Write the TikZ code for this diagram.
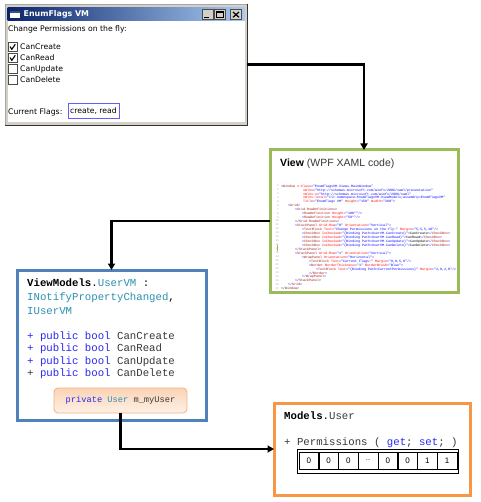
\documentclass[tikz,border=0pt]{standalone}
\usepackage{fontspec}
\usetikzlibrary{arrows.meta}
\newfontfamily\winfont{DejaVu Sans}
\newfontfamily\codefont{Liberation Mono}
\newfontfamily\headfont{Liberation Sans}
\definecolor{vsblue}{HTML}{2828F0}
\definecolor{vsteal}{HTML}{2B91AF}
\definecolor{vsdark}{HTML}{383838}
\definecolor{boxgreen}{HTML}{9BBB59}
\definecolor{boxblue}{HTML}{4F81BD}
\definecolor{boxorange}{HTML}{F79646}
\definecolor{privline}{HTML}{F4B183}
\definecolor{privtop}{HTML}{FAD3B5}
\definecolor{privbot}{HTML}{FEF1E6}
\definecolor{xtag}{HTML}{A31515}
\definecolor{xattr}{HTML}{FF0000}
\definecolor{xval}{HTML}{0000FF}
\definecolor{wingray}{HTML}{D4D0C8}
\definecolor{titledark}{HTML}{0A246A}
\definecolor{titlelight}{HTML}{A6CAF0}
\definecolor{flagblue}{HTML}{6060FF}
\newcommand\xT[1]{\textcolor{xtag}{#1}}
\newcommand\xA[1]{\textcolor{xattr}{#1}}
\newcommand\xV[1]{\textcolor{xval}{#1}}
\newcommand\xL{\textcolor{xval}{<}}
\newcommand\xLs{\textcolor{xval}{</}}
\newcommand\xR{\textcolor{xval}{>}}
\newcommand\xRs{\textcolor{xval}{/>}}
\newcommand\xI[1]{\hspace*{#1pt}}
\tikzset{
  conn/.style={draw=black, line width=2.2pt, -{Triangle[length=6.5pt,width=7pt]}},
  wintxt/.style={font=\winfont\fontsize{7.7}{9}\selectfont, inner sep=0pt, text=black},
  chkbox/.style={draw=gray!60!black, fill=white, minimum size=9pt, inner sep=0pt, line width=0.7pt},
  winbtn/.style={draw=gray!60!black, fill=wingray, minimum width=11pt, minimum height=10pt, inner sep=0pt, line width=0.5pt},
  umlbox/.style={fill=white, line width=3pt, inner sep=0pt, outer sep=0pt},
  vmtxt/.style={font=\codefont\fontsize{10.7}{13}\selectfont, inner sep=0pt, text=vsdark},
  xamlcode/.style={font=\codefont\fontsize{3.33}{3.95}\selectfont, align=left, inner sep=0pt},
  gutter/.style={font=\codefont\fontsize{2.6}{3.95}\selectfont, align=right, inner sep=0pt, text=gray!70},
  bitcell/.style={draw=black, line width=0.5pt, minimum width=19.75pt, minimum height=17pt, inner sep=0pt, font=\headfont\fontsize{8}{9}\selectfont},
}
\begin{document}
\begin{tikzpicture}[x=1pt,y=-1pt]
\useasboundingbox (0,0) rectangle (480,502);
\fill[white] (0,0) rectangle (480,502);

% ---------- window ----------
\node[draw=gray!70, fill=wingray, line width=0.8pt, anchor=north west, minimum width=242pt, minimum height=121pt, inner sep=0pt, outer sep=0pt] (win) at (5,4) {};
\fill[white] (7.5,21) rectangle (244.5,122);
\draw[gray!40!black, line width=0.9pt] (5,125) -- (247,125) -- (247,4);
\shade[left color=titledark, right color=titlelight] (7.5,8) rectangle (244.5,21);
\fill[white] (10,11.5) rectangle (20,18);
\fill[titledark!80!white] (10,11.5) rectangle (20,13.5);
\node[font=\winfont\bfseries\fontsize{7.9}{9}\selectfont, text=white, anchor=west, inner sep=0pt] (wtitle) at (23.5,14.8) {EnumFlags VM};
\node[winbtn] (bmin) at (207.5,14.5) {};
\node[winbtn] (bmax) at (219.5,14.5) {};
\node[winbtn] (bclose) at (236,14.5) {};
\draw[line width=1.4pt] (204,17.6) -- (209,17.6);
\draw[line width=0.7pt] (216,11.5) rectangle (223,17.5);
\draw[line width=1.3pt] (216,12) -- (223,12);
\draw[line width=1.2pt] (233,12) -- (239,17.3) (239,12) -- (233,17.3);

\node[wintxt, anchor=west] (wlabel) at (8,29.5) {Change Permissions on the fly:};
\node[chkbox] (cb1) at (12.5,47) {};
\node[chkbox] (cb2) at (12.5,58) {};
\node[chkbox] (cb3) at (12.5,69) {};
\node[chkbox] (cb4) at (12.5,80) {};
\draw[line width=1.1pt] (10,46.6) -- (11.8,49.3) -- (15.3,44.3);
\draw[line width=1.1pt] (10,57.6) -- (11.8,60.3) -- (15.3,55.3);
\node[wintxt, anchor=west] (l1) at (20,47) {CanCreate};
\node[wintxt, anchor=west] (l2) at (20,58) {CanRead};
\node[wintxt, anchor=west] (l3) at (20,69) {CanUpdate};
\node[wintxt, anchor=west] (l4) at (20,80) {CanDelete};
\node[wintxt, anchor=west] (cflab) at (8,112) {Current Flags:};
\node[wintxt, draw=flagblue, line width=1pt, minimum width=51pt, minimum height=15pt] (cfbox) at (93.5,111.5) {create, read};

% ---------- view box ----------
\node[umlbox, draw=boxgreen, minimum width=188pt, minimum height=142pt] (view) at (364,221) {};
\node[font=\headfont\fontsize{10.5}{12}\selectfont, text=vsdark, anchor=west, inner sep=0pt] (viewtitle) at (280,164) {\textcolor{black}{\bfseries View} (WPF XAML code)};
\node[gutter, anchor=north east] (gut) at (279,184.5) {1\\2\\3\\4\\5\\6\\7\\8\\9\\10\\11\\12\\13\\14\\15\\16\\17\\18\\19\\20\\21\\22\\23\\24\\25\\26\\27};
\fill[boxgreen] (276.5,245) rectangle (277.6,251);
\node[xamlcode, anchor=north west] (xaml) at (281,184.5) {%
\xL\xT{Window} \xA{x:Class}\xV{="EnumFlagsVM.Views.MainWindow"}\\
\xI{22}\xA{xmlns}\xV{="http://schemas.microsoft.com/winfx/2006/xaml/presentation"}\\
\xI{22}\xA{xmlns:x}\xV{="http://schemas.microsoft.com/winfx/2006/xaml"}\\
\xI{22}\xA{xmlns:local}\xV{="clr-namespace:EnumFlagsVM.ViewModels;assembly=EnumFlagsVM"}\\
\xI{22}\xA{Title}\xV{="EnumFlags VM" }\xA{Height}\xV{="150" }\xA{Width}\xV{="260"}\xR\\
\xI{7}\xL\xT{Grid}\xR\\
\xI{14}\xL\xT{Grid.RowDefinitions}\xR\\
\xI{21}\xL\xT{RowDefinition} \xA{Height}\xV{="100*"}\xRs\\
\xI{21}\xL\xT{RowDefinition} \xA{Height}\xV{="50*"}\xRs\\
\xI{14}\xLs\xT{Grid.RowDefinitions}\xR\\
\xI{14}\xL\xT{StackPanel} \xA{Grid.Row}\xV{="0" }\xA{Orientation}\xV{="Vertical"}\xR\\
\xI{21}\xL\xT{TextBlock} \xA{Text}\xV{="Change Permissions on the fly:" }\xA{Margin}\xV{="5,5,5,10"}\xRs\\
\xI{21}\xL\xT{CheckBox} \xA{IsChecked}\xV{="\{Binding Path=UserVM.CanCreate\}"}\xR CanCreate\xLs\xT{CheckBox}\xR\\
\xI{21}\xL\xT{CheckBox} \xA{IsChecked}\xV{="\{Binding Path=UserVM.CanRead\}"}\xR CanRead\xLs\xT{CheckBox}\xR\\
\xI{21}\xL\xT{CheckBox} \xA{IsChecked}\xV{="\{Binding Path=UserVM.CanUpdate\}"}\xR CanUpdate\xLs\xT{CheckBox}\xR\\
\xI{21}\xL\xT{CheckBox} \xA{IsChecked}\xV{="\{Binding Path=UserVM.CanDelete\}"}\xR CanDelete\xLs\xT{CheckBox}\xR\\
\xI{14}\xLs\xT{StackPanel}\xR\\
\xI{14}\xL\xT{StackPanel} \xA{Grid.Row}\xV{="1" }\xA{Orientation}\xV{="Vertical"}\xR\\
\xI{21}\xL\xT{WrapPanel} \xA{Orientation}\xV{="Horizontal"}\xR\\
\xI{28}\xL\xT{TextBlock} \xA{Text}\xV{="Current Flags:" }\xA{Margin}\xV{="0,0,5,0"}\xRs\\
\xI{28}\xL\xT{Border} \xA{BorderThickness}\xV{="1" }\xA{BorderBrush}\xV{="Blue"}\xR\\
\xI{35}\xL\xT{TextBlock} \xA{Text}\xV{="\{Binding Path=CurrentPermissions\}" }\xA{Margin}\xV{="2,0,2,0"}\xRs\\
\xI{28}\xLs\xT{Border}\xR\\
\xI{21}\xLs\xT{WrapPanel}\xR\\
\xI{14}\xLs\xT{StackPanel}\xR\\
\xI{7}\xLs\xT{Grid}\xR\\
\xLs\xT{Window}\xR};

% ---------- view model box ----------
\node[umlbox, draw=boxblue, minimum width=189pt, minimum height=150pt] (vm) at (111.5,345) {};
\node[vmtxt, anchor=base west, text=black] (vm1) at (27,286) {\textbf{ViewModels}.\textcolor{vsteal}{UserVM} :};
\node[vmtxt, anchor=base west, text=black] (vm2) at (27,300) {\textcolor{vsteal}{INotifyPropertyChanged},};
\node[vmtxt, anchor=base west] (vm3) at (27,314) {\textcolor{vsteal}{IUserVM}};
\node[vmtxt, anchor=base west] (vm4) at (27,339) {\textcolor{vsblue}{+ public bool} CanCreate};
\node[vmtxt, anchor=base west] (vm5) at (27,351.5) {\textcolor{vsblue}{+ public bool} CanRead};
\node[vmtxt, anchor=base west] (vm6) at (27,364) {\textcolor{vsblue}{+ public bool} CanUpdate};
\node[vmtxt, anchor=base west] (vm7) at (27,376.5) {+ \textcolor{vsblue}{public bool} CanDelete};
\node[draw=privline, line width=0.8pt, rounded corners=4pt, top color=privtop, bottom color=privbot, minimum width=133pt, minimum height=25pt, inner sep=0pt, outer sep=0pt, font=\codefont\fontsize{8.7}{10}\selectfont, text=vsdark] (priv) at (120.5,400.5) {\textcolor{vsblue}{private} \textcolor{vsteal}{User} m\_myUser};

% ---------- model box ----------
\node[umlbox, draw=boxorange, minimum width=196pt, minimum height=92pt] (models) at (372,449) {};
\node[vmtxt, anchor=base west] (mtitle) at (284,419) {\textcolor{black}{\textbf{Models}.}User};
\node[vmtxt, anchor=base west] (mperm) at (284,445.5) {+ Permissions ( \textcolor{vsblue}{get}; \textcolor{vsblue}{set}; )};
\node[draw=black, line width=0.6pt, minimum width=161pt, minimum height=24pt, inner sep=0pt] (bits) at (377.5,461) {};
\node[bitcell] (b0) at (308.9,461) {0};
\node[bitcell] (b1) at (328.6,461) {0};
\node[bitcell] (b2) at (348.4,461) {0};
\node[bitcell] (b3) at (368.1,461) {\fontsize{6}{7}\selectfont\raisebox{1pt}{...}};
\node[bitcell] (b4) at (387.9,461) {0};
\node[bitcell] (b5) at (407.6,461) {0};
\node[bitcell] (b6) at (427.4,461) {1};
\node[bitcell] (b7) at (447.1,461) {1};

% ---------- connectors ----------
\draw[conn] (win.east) -| (view.north);
\draw[conn] (view.west) -| (vm.north);
\draw[conn] (priv.south) |- (models.west);
\end{tikzpicture}
\end{document}
